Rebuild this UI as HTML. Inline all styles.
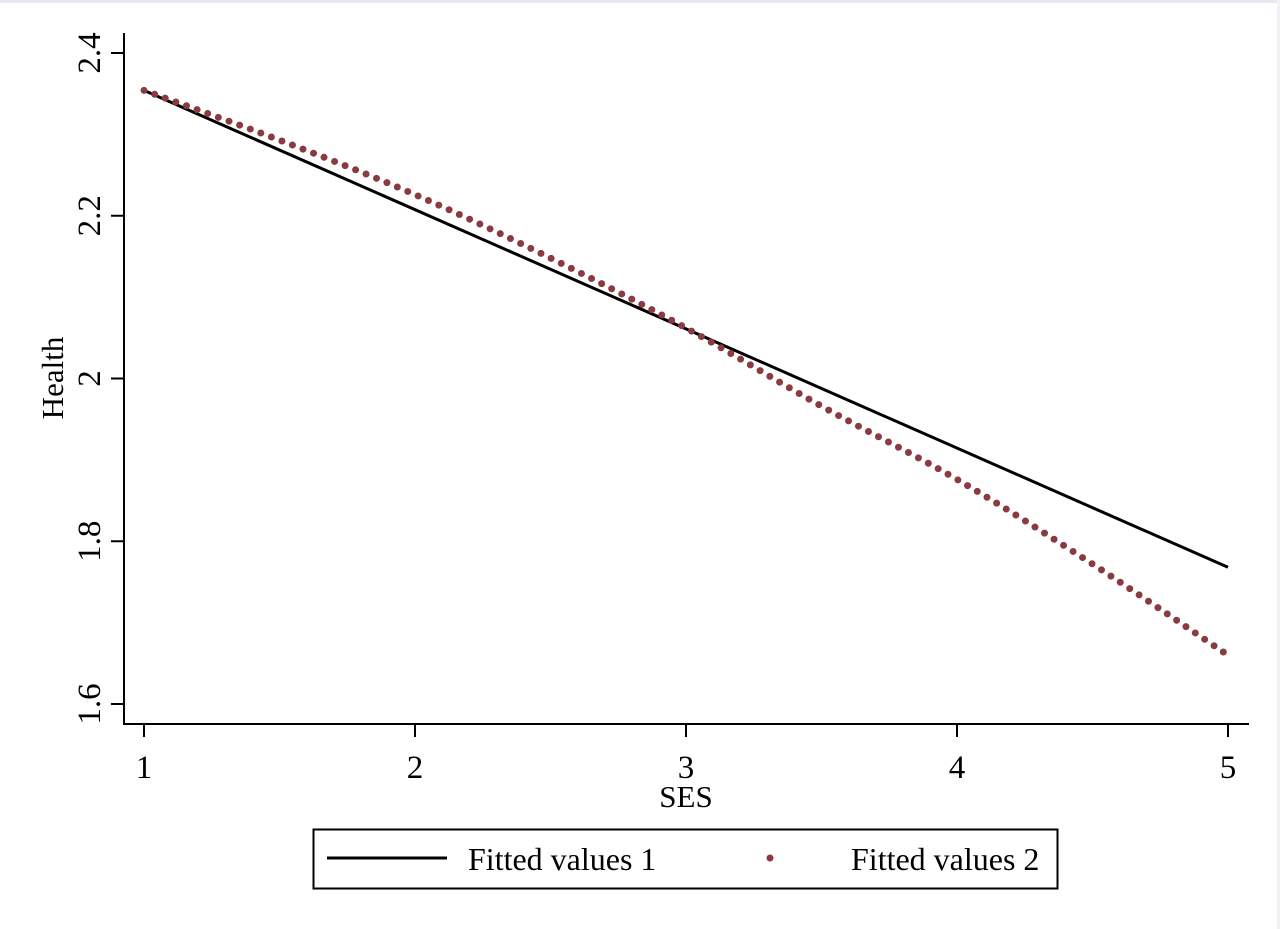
<!DOCTYPE html>
<html><head><meta charset="utf-8"><style>
html,body{margin:0;padding:0;background:#fff;}
svg{display:block;font-family:"Liberation Serif",serif;}
</style></head><body>
<svg width="1280" height="929" viewBox="0 0 1280 929">
<rect x="0" y="0" width="1280" height="3" fill="#e6e8f0"/>
<rect x="1277" y="0" width="3" height="929" fill="#f0f1f5"/>
<g id="axes"></g>
<g id="marks"></g>
<g>
<rect x="313.5" y="829.5" width="744" height="59" fill="#fff" stroke="#000" stroke-width="2"/>
<line x1="327" y1="858" x2="447" y2="858" stroke="#000" stroke-width="3"/>
<text x="468" y="870" font-size="32">Fitted values 1</text>
<circle cx="770" cy="858" r="3.5" fill="#8a3b40"/>
<text x="851" y="870" font-size="32">Fitted values 2</text>
</g>
</svg>
<script>
const xTicks=[1,2,3,4,5];
const yTicks=[1.6,1.8,2.0,2.2,2.4];
const yTickLabels=["1.6","1.8","2","2.2","2.4"];
const series1X=[1,5];
const series1Y=[2.354,1.768];
const series2X=[1,1.5,2,2.5,3,3.5,4,4.5,5];
const series2Y=[2.354,2.293,2.226,2.148,2.062,1.966,1.876,1.772,1.660];
const sx=v=>144+(v-1)*(1228-144)/4;
const sy=v=>53+(2.4-v)*(704-53)/0.8;
const NS="http://www.w3.org/2000/svg";
function mk(tag,attrs,parent){const e=document.createElementNS(NS,tag);for(const k in attrs)e.setAttribute(k,attrs[k]);parent.appendChild(e);return e;}
const axes=document.getElementById('axes'),marks=document.getElementById('marks');
let yl=mk('line',{x1:124,y1:33,x2:124,y2:724,stroke:'#000','stroke-width':2},axes);


let xl=mk('line',{x1:123,y1:724,x2:1249,y2:724,stroke:'#000','stroke-width':2},axes);


xTicks.forEach(t=>{
 const x=sx(t);
 const tk=mk('line',{x1:x,y1:724,x2:x,y2:737,stroke:'#000','stroke-width':2},axes);
 
 
 const tx=mk('text',{x:x,y:778,'font-size':33,'text-anchor':'middle'},axes);tx.textContent=String(t);
 
 
});
yTicks.forEach((t,i)=>{
 const y=sy(t);
 const tk=mk('line',{x1:111,y1:y,x2:124,y2:y,stroke:'#000','stroke-width':2},axes);
 
 
 const tx=mk('text',{x:0,y:0,'font-size':33,'text-anchor':'middle',transform:`translate(100,${y}) rotate(-90)`},axes);tx.textContent=yTickLabels[i];
 
 
});
const xt=mk('text',{x:686,y:807,'font-size':31,'text-anchor':'middle'},axes);xt.textContent='SES';


const yt=mk('text',{x:0,y:0,'font-size':31,'text-anchor':'middle',transform:'translate(63,378) rotate(-90)'},axes);yt.textContent='Health';


const p1=mk('polyline',{points:series1X.map((x,i)=>sx(x)+','+sy(series1Y[i])).join(' '),fill:'none',stroke:'#000','stroke-width':3},marks);


const pts=series2X.map((x,i)=>[sx(x),sy(series2Y[i])]);
let d='M'+pts[0][0]+','+pts[0][1];
for(let i=0;i<pts.length-1;i++){
 const p0=pts[Math.max(0,i-1)],a=pts[i],b=pts[i+1],p3=pts[Math.min(pts.length-1,i+2)];
 const c1=[a[0]+(b[0]-p0[0])/6,a[1]+(b[1]-p0[1])/6],c2=[b[0]-(p3[0]-a[0])/6,b[1]-(p3[1]-a[1])/6];
 d+=` C${c1[0]},${c1[1]} ${c2[0]},${c2[1]} ${b[0]},${b[1]}`;
}
const p2=mk('path',{d:d,fill:'none',stroke:'#8a3b40','stroke-width':7,'stroke-linecap':'round','stroke-dasharray':'0 11.3'},marks);


</script>
</body></html>
